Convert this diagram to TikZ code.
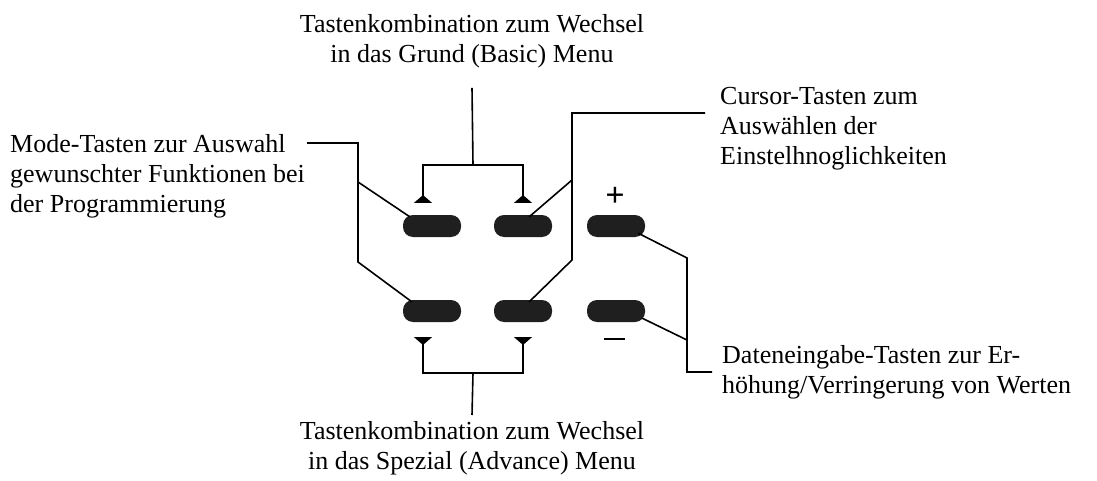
\documentclass[tikz,border=0pt]{standalone}
\usepackage{fontspec}
\setmainfont{Liberation Serif}
\usetikzlibrary{arrows.meta, positioning}

\begin{document}
\begin{tikzpicture}[x=1pt, y=-1pt,
  every node/.style={inner sep=0pt, font=\fontsize{26pt}{30pt}\selectfont},
  taste/.style={fill=black!88, rounded corners=10pt, minimum width=58pt, minimum height=22pt},
  linie/.style={line width=1.6pt},
  pfeil/.style={line width=1.6pt, -{Triangle[reversed, width=18pt, length=8pt]}}]
\useasboundingbox (0,0) rectangle (1097,481);

\node[anchor=north, align=center] (grund) at (472,14) {Tastenkombination zum Wechsel\\in das Grund (Basic) Menu};
\node[anchor=north west, align=left] (mode) at (10,134) {Mode-Tasten zur Auswahl\\gewunschter Funktionen bei\\der Programmierung};
\node[anchor=north west, align=left] (cursor) at (720,87) {Cursor-Tasten zum\\Auswählen der\\Einstelhnoglichkeiten};
\node[anchor=north west, align=left] (daten) at (722,345) {Dateneingabe-Tasten zur Er-\\höhung/Verringerung von Werten};
\node[anchor=north, align=center] (spezial) at (472,421) {Tastenkombination zum Wechsel\\in das Spezial (Advance) Menu};

\node[taste] (k1) at (432,226) {};
\node[taste] (k2) at (523,226) {};
\node[taste] (k3) at (616,226) {};
\node[taste] (k4) at (432,311) {};
\node[taste] (k5) at (523,311) {};
\node[taste] (k6) at (616,311) {};

\node[font=\fontsize{34pt}{34pt}\selectfont\bfseries] (plus) at (615,197) {+};
\node (minus) at (614,339) {\rule{21pt}{2.6pt}};

\coordinate (ob) at (473,165);
\coordinate (o1) at (423,203);
\coordinate (o2) at (523,203);
\coordinate (ub) at (473,373);
\coordinate (u1) at (423,337);
\coordinate (u2) at (523,337);
\coordinate (m2) at (358,182);
\coordinate (m3) at (358,262);
\coordinate (c2) at (572,180);
\coordinate (c3) at (572,260);
\coordinate (d1) at (687,258);
\coordinate (d2) at (687,340);

\draw[linie] ([yshift=-20pt]grund.south) -- (ob);
\draw[pfeil] (ob) -| (o1);
\draw[pfeil] (ob) -| (o2);
\draw[linie] ([yshift=6pt]spezial.north) -- (ub);
\draw[pfeil] (ub) -| (u1);
\draw[pfeil] (ub) -| (u2);

\draw[linie] ([xshift=2pt,yshift=-9pt]mode.north east) -| (m3) -- ([xshift=9pt,yshift=-2pt]k4.north west);
\draw[linie] (m2) -- ([xshift=7pt,yshift=-2pt]k1.north west);

\draw[linie] ([xshift=-15pt,yshift=-26pt]cursor.north west) -| (c3) -- ([xshift=-23pt,yshift=-2pt]k5.north east);
\draw[linie] (c2) -- ([xshift=-23pt,yshift=-2pt]k2.north east);

\draw[linie] ([xshift=-7pt,yshift=4pt]k3.south east) -- (d1) -- (d1 |- daten.west) -- ([xshift=-10pt]daten.west);
\draw[linie] ([xshift=-3pt,yshift=4pt]k6.south east) -- (d2);
\end{tikzpicture}
\end{document}
